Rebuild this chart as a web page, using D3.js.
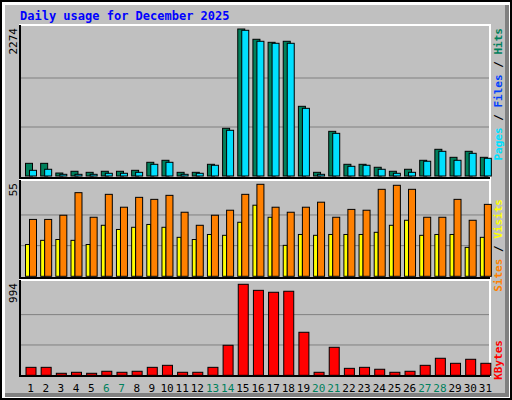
<!DOCTYPE html><html><head><meta charset="utf-8">
<script src="https://cdn.jsdelivr.net/npm/d3@7"></script>
<style>body{margin:0}svg{display:block}text{font-family:"DejaVu Sans Mono",monospace}</style></head><body>
<script>
const days=d3.range(1,32);
const weekends=[6,7,13,14,20,21,27,28];
const hits=[196,196,46,73,57,73,73,88,212,243,57,57,181,738,2274,2115,2068,2084,1078,57,691,181,181,135,73,104,243,413,289,382,289];
const pages=[88,104,26,26,26,42,42,57,181,212,26,42,166,707,2254,2084,2053,2053,1047,26,660,150,166,104,42,57,228,382,243,351,274];
const visits=[34,34,36.5,50,35.3,49,41.3,47.2,46,48.4,38.3,30.5,36.5,39.5,49,55,41.3,38.3,41.3,44.3,35.3,40,39.5,52,54.4,52,35.3,35.3,46,33.5,43];
const sites=[19,21.5,22,21.5,19,30.5,28,29.3,31,29.3,23.3,22,25,24.5,32.3,42.5,35.3,18.5,25,24.5,25,25,25,26.3,30.5,33.5,24.5,25,25,17.3,23.3];
const kbytes=[87,87,22,33,22,44,33,44,87,109,33,33,87,328,994,928,907,918,470,33,306,76,87,66,33,44,109,186,131,175,131];
const W=512,H=400;
const svg=d3.select("body").append("svg").attr("width",W).attr("height",H);
svg.append("rect").attr("width",W).attr("height",H).attr("fill","#fff");
svg.append("rect").attr("x",1).attr("y",1).attr("width",W-2).attr("height",H-2).attr("fill","none").attr("stroke","#000").attr("stroke-width",2);
svg.append("rect").attr("x",5).attr("y",5).attr("width",502).attr("height",390).attr("fill","#c0c0c0");
svg.append("path").attr("d","M507,5V395H5").attr("fill","none").attr("stroke","#808080").attr("stroke-width",4);
svg.append("text").attr("x",20).attr("y",20).attr("fill","#0000ff").attr("font-size",12).attr("font-weight","bold").text("Daily usage for December 2025");
const x=d3.scaleBand().domain(days).range([20,490]);
function panel(top,bot,max,lab){
  svg.append("rect").attr("x",20).attr("y",top).attr("width",470).attr("height",bot-top).attr("fill","#c0c0c0").attr("stroke","#fff").attr("stroke-width",2);
  svg.append("path").attr("d",`M20,${top}V${bot}H490`).attr("stroke","#000").attr("fill","none").attr("stroke-width",2);
  svg.append("text").attr("transform",`translate(17,${top+3}) rotate(-90)`).attr("text-anchor","end").attr("font-size",11).text(lab);
}
function grid(y,vals){vals.forEach(v=>svg.append("line").attr("x1",21).attr("x2",489).attr("y1",y(v)).attr("y2",y(v)).attr("stroke","#808080"));}
function bars(data,y,dx,w,fill){
  svg.append("g").selectAll("rect").data(data).join("rect")
   .attr("x",(d,i)=>x(days[i])+dx).attr("y",d=>y(d)).attr("width",w).attr("height",d=>y(0)-y(d))
   .attr("fill",fill).attr("stroke","#000").attr("stroke-width",1);
}
// top
panel(25,178,2274,"2274");
const y1=d3.scaleLinear().domain([0,2274]).range([176,29]);
grid(y1,[758,1516]);
bars(hits,y1,5.5,7,"#00805c");bars(pages,y1,9.5,7,"#00e0ff");
// mid
panel(180,278,55,"55");
const y2=d3.scaleLinear().domain([0,55]).range([276.3,184.3]);
grid(y2,[18.33,36.67]);
bars(sites,y2,5.5,4,"#ffff00");bars(visits,y2,9.5,7,"#ff8000");
// bottom
panel(280,376,994,"994");
const y3=d3.scaleLinear().domain([0,994]).range([375.3,284.3]);
grid(y3,[331.3,662.7]);
bars(kbytes,y3,6,10,"#ff0000");
// day labels
svg.append("g").selectAll("text").data(days).join("text").attr("x",d=>x(d)+x.bandwidth()/2+3).attr("y",392)
 .attr("text-anchor","middle").attr("font-size",11).attr("font-family","DejaVu Sans").attr("fill",d=>weekends.includes(d)?"#00805c":"#000").text(d=>d);
// right labels
function rlab(yEnd,parts){
  const t=svg.append("text").attr("transform",`translate(502,${yEnd}) rotate(-90)`).attr("text-anchor","end").attr("font-size",11).attr("font-weight","bold");
  parts.forEach(p=>t.append("tspan").attr("fill",p[1]).text(p[0]));
}
rlab(28,[["Pages","#00e0ff"],[" / ","#000"],["Files","#0040ff"],[" / ","#000"],["Hits","#00805c"]]);
rlab(199,[["Sites","#ff8000"],[" / ","#000"],["Visits","#ffff00"]]);
rlab(340,[["KBytes","#ff0000"]]);
// adjust: text-anchor end with rotate(-90) => text ends at top
</script></body></html>
